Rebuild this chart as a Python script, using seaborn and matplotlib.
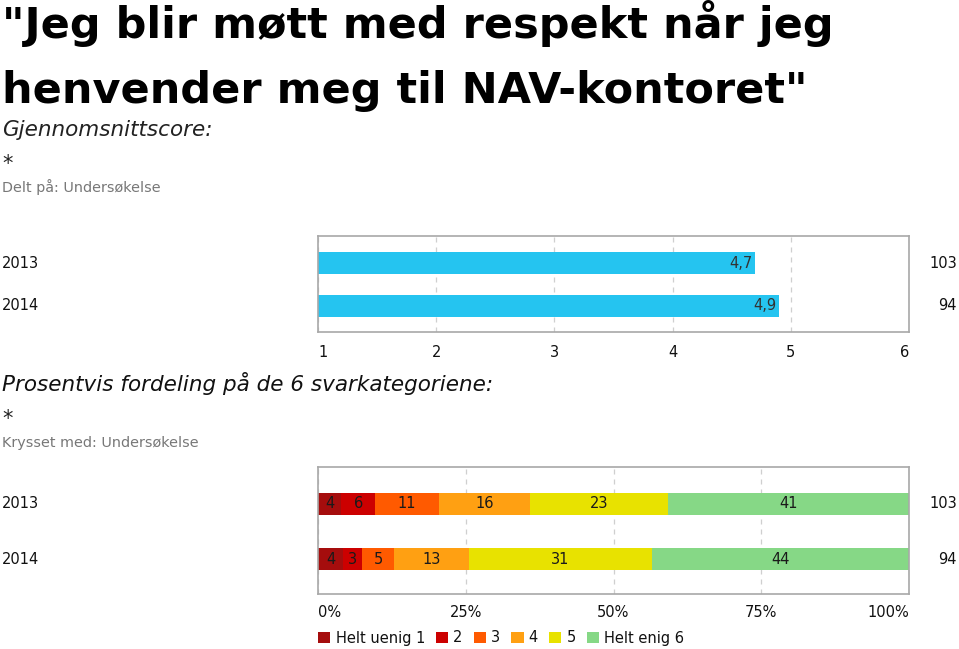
import numpy as np
import pandas as pd
import matplotlib
matplotlib.use("Agg")
import matplotlib.pyplot as plt
import matplotlib.transforms as mtransforms
from matplotlib.patches import Patch
import seaborn as sns

# data
years = ["2013", "2014"]
mean_scores = [4.7, 4.9]
score_labels = ["4,7", "4,9"]
n_resp = [103, 94]

categories = ["Helt uenig 1", "2", "3", "4", "5", "Helt enig 6"]
pct_2013 = [3.9, 5.8, 10.7, 15.5, 23.3, 40.8]
pct_2014 = [4.3, 3.2, 5.3, 12.8, 30.9, 43.6]
pct_labels_2013 = ["4", "6", "11", "16", "23", "41"]
pct_labels_2014 = ["4", "3", "5", "13", "31", "44"]
cat_colors = ["#A50D0D", "#CC0000", "#FF5A00", "#FFA012", "#E8E200", "#86D886"]

sns.set_theme(style="white")
plt.rcParams["font.family"] = ["DejaVu Sans"]
plt.rcParams["text.color"] = "black"

W, H = 959, 649
fig = plt.figure(figsize=(W / 100, H / 100), dpi=100)

def fx(px):
    return px / W

def fy(py):
    return 1 - py / H

# header texts
fig.text(fx(2), fy(38), '"Jeg blir møtt med respekt når jeg', fontsize=31, fontweight="bold", va="baseline")
fig.text(fx(2), fy(103), 'henvender meg til NAV-kontoret"', fontsize=31, fontweight="bold", va="baseline")
fig.text(fx(2), fy(136), "Gjennomsnittscore:", fontsize=15.5, style="italic", color="#222222", va="baseline")
fig.text(fx(2), fy(170), "*", fontsize=15, color="#222222", va="baseline")
fig.text(fx(2), fy(192), "Delt på: Undersøkelse", fontsize=10.4, color="#777777", va="baseline")

fig.text(fx(2), fy(391), "Prosentvis fordeling på de 6 svarkategoriene:", fontsize=15.5, style="italic", color="#111111", va="baseline")
fig.text(fx(2), fy(425), "*", fontsize=15, color="#222222", va="baseline")
fig.text(fx(2), fy(447), "Krysset med: Undersøkelse", fontsize=10.4, color="#777777", va="baseline")

frame_col = "#a8a8a8"
grid_col = "#cfcfcf"
lab_size = 10.5

def edge_align(ax):
    labs = ax.get_xticklabels()
    labs[0].set_horizontalalignment("left")
    labs[-1].set_horizontalalignment("right")

# ---- mean score chart
ax1 = fig.add_axes([fx(318), fy(332), fx(909) - fx(318), (332 - 236) / H])
df_mean = pd.DataFrame({"year": years, "score": mean_scores})
sns.barplot(data=df_mean, x="score", y="year", ax=ax1, color="#25C4F0", width=0.51,
            saturation=1, linewidth=0, edgecolor="none", zorder=2)
ax1.set_xlim(1, 6)
ax1.set_ylim(1 + 26 / 43, -27 / 43)
ax1.set_xticks([1, 2, 3, 4, 5, 6])
ax1.set_xticklabels(["1", "2", "3", "4", "5", "6"])
edge_align(ax1)
ax1.set_yticks([])
ax1.set_xlabel("")
ax1.set_ylabel("")
ax1.tick_params(axis="x", length=0, pad=9, labelsize=lab_size, colors="#111111")
ax1.grid(axis="x", linestyle=(0, (4, 4)), color=grid_col, linewidth=0.9, zorder=0)
ax1.set_axisbelow(True)
for sp in ax1.spines.values():
    sp.set_color(frame_col)
    sp.set_linewidth(1.2)
for i, (v, lab) in enumerate(zip(mean_scores, score_labels)):
    ax1.text(v - 0.02, i, lab, ha="right", va="center", fontsize=lab_size, color="#333333", zorder=3)

tr1 = mtransforms.blended_transform_factory(fig.transFigure, ax1.transData)
for i, (y, n) in enumerate(zip(years, n_resp)):
    ax1.text(fx(2), i, y, transform=tr1, ha="left", va="center", fontsize=lab_size, color="#111111")
    ax1.text(fx(957), i, str(n), transform=tr1, ha="right", va="center", fontsize=lab_size, color="#111111")

# ---- distribution chart
ax2 = fig.add_axes([fx(318), fy(594), fx(909) - fx(318), (594 - 467) / H])
cum = np.cumsum(np.array([pct_2013, pct_2014]), axis=1)
# draw from the rightmost cumulative segment back to the first so they stack
for k in range(len(categories) - 1, -1, -1):
    d = pd.DataFrame({"year": years, "end": cum[:, k]})
    sns.barplot(data=d, x="end", y="year", ax=ax2, color=cat_colors[k], width=0.4,
                saturation=1, linewidth=0, edgecolor="none", zorder=2)
labels_all = [pct_labels_2013, pct_labels_2014]
vals_all = [pct_2013, pct_2014]
for i in range(len(years)):
    for k in range(len(categories)):
        centre = cum[i, k] - vals_all[i][k] / 2
        ax2.text(centre, i, labels_all[i][k], ha="center", va="center", fontsize=lab_size,
                 color="#1a1a1a", zorder=3)
ax2.set_xlim(0, 100)
ax2.set_ylim(1 + 35 / 55, -37 / 55)
ax2.set_xticks([0, 25, 50, 75, 100])
ax2.set_xticklabels(["0%", "25%", "50%", "75%", "100%"])
edge_align(ax2)
ax2.set_yticks([])
ax2.set_xlabel("")
ax2.set_ylabel("")
ax2.tick_params(axis="x", length=0, pad=8, labelsize=lab_size, colors="#111111")
ax2.grid(axis="x", linestyle=(0, (4, 4)), color=grid_col, linewidth=0.9, zorder=0)
ax2.set_axisbelow(True)
for sp in ax2.spines.values():
    sp.set_color(frame_col)
    sp.set_linewidth(1.2)
tr2 = mtransforms.blended_transform_factory(fig.transFigure, ax2.transData)
for i, (y, n) in enumerate(zip(years, n_resp)):
    ax2.text(fx(2), i, y, transform=tr2, ha="left", va="center", fontsize=lab_size, color="#111111")
    ax2.text(fx(957), i, str(n), transform=tr2, ha="right", va="center", fontsize=lab_size, color="#111111")

handles = [Patch(facecolor=c, edgecolor="none") for c in cat_colors]
fig.legend(handles, categories, loc="center left", bbox_to_anchor=(fx(318), fy(638)),
           ncol=6, frameon=False, fontsize=lab_size, handlelength=0.85, handleheight=0.85,
           handletextpad=0.35, columnspacing=0.75, borderpad=0, borderaxespad=0,
           labelcolor="#111111")

fig.savefig("out.png", dpi=100)
